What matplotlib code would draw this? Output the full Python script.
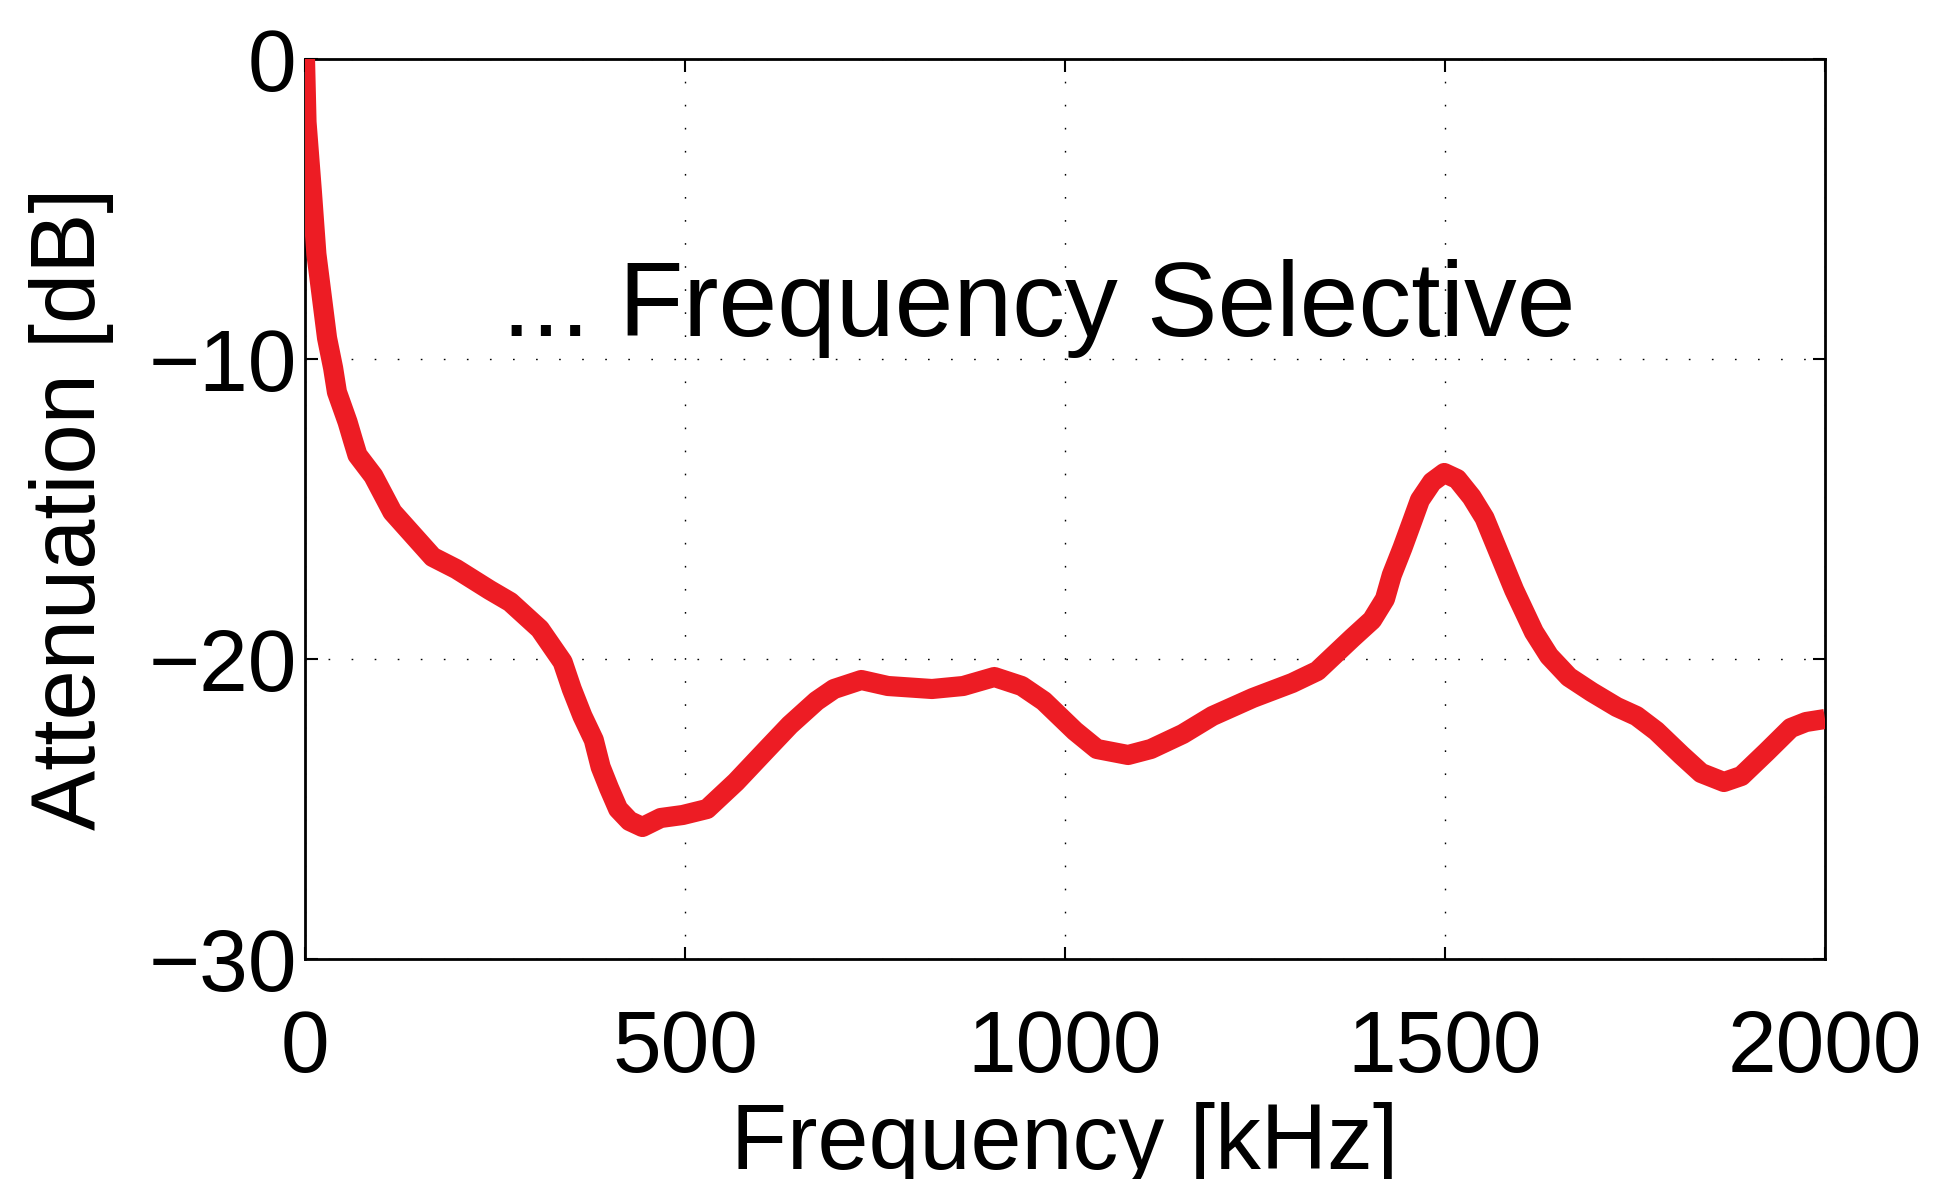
import matplotlib
matplotlib.use("Agg")
import matplotlib.pyplot as plt

# Data
freq_khz = [0, 2, 9, 15, 22, 29, 37, 42, 49, 56, 63, 69, 90, 115, 168, 199, 243,
            270, 309, 339, 351, 365, 380, 389, 400, 412, 427, 444, 468, 497, 529,
            567, 608, 638, 673, 696, 732, 767, 825, 866, 907, 943, 972, 1013, 1042,
            1083, 1113, 1155, 1194, 1247, 1299, 1332, 1378, 1404, 1421, 1430, 1444,
            1457, 1467, 1483, 1499, 1516, 1535, 1552, 1565, 1578, 1591, 1604, 1617,
            1637, 1663, 1693, 1726, 1752, 1778, 1811, 1837, 1867, 1890, 1923, 1955,
            1975, 2000]
atten_db = [0.0, -2.1, -4.4, -6.5, -7.9, -9.3, -10.3, -11.1, -11.6, -12.1, -12.7,
            -13.2, -13.9, -15.1, -16.6, -17.0, -17.7, -18.1, -19.0, -20.1, -21.0,
            -21.9, -22.7, -23.6, -24.3, -25.0, -25.4, -25.6, -25.3, -25.2, -25.0,
            -24.1, -23.0, -22.2, -21.4, -21.0, -20.7, -20.9, -21.0, -20.9, -20.6,
            -20.9, -21.4, -22.4, -23.0, -23.2, -23.0, -22.5, -21.9, -21.3, -20.8,
            -20.4, -19.3, -18.7, -18.0, -17.2, -16.3, -15.4, -14.7, -14.1, -13.8,
            -14.0, -14.6, -15.3, -16.1, -16.9, -17.7, -18.4, -19.1, -19.9, -20.6,
            -21.1, -21.6, -21.9, -22.4, -23.2, -23.8, -24.1, -23.9, -23.1, -22.3,
            -22.1, -22.0]
xticks = [0, 500, 1000, 1500, 2000]
yticks = [-30, -20, -10, 0]
xlabel = "Frequency [kHz]"
ylabel = "Attenuation [dB]"
annotation = "... Frequency Selective"

plt.rcParams['font.family'] = ['Liberation Sans', 'DejaVu Sans']

W, H = 1936, 1179
fig = plt.figure(figsize=(W / 100, H / 100), dpi=100)
ax = fig.add_axes([305 / W, 1 - 959 / H, 1520 / W, 900 / H])

ax.plot(freq_khz, atten_db, color='#ED1C24', linewidth=14.5,
        solid_joinstyle='round', solid_capstyle='butt', zorder=3)

ax.set_xlim(0, 2000)
ax.set_ylim(-30, 0)
ax.set_xticks(xticks)
ax.set_yticks(yticks)
ax.set_xticklabels([str(v) for v in xticks])
ax.set_yticklabels([("\u2212" + str(-v)) if v < 0 else str(v) for v in yticks])

ax.grid(True, color='black', linewidth=1.0, linestyle=(0, (1.2, 15.4)))
ax.set_axisbelow(True)

for s in ax.spines.values():
    s.set_linewidth(2.0)
ax.tick_params(axis='both', direction='in', length=9, width=1.5,
               top=True, right=True, labelsize=63)
ax.tick_params(axis='x', pad=36)
ax.tick_params(axis='y', pad=6)

ax.set_xlabel(xlabel, fontsize=66, va='baseline')
ax.xaxis.set_label_coords(0.5, -0.2333)
ax.set_ylabel(ylabel, fontsize=65, va='center')
ax.yaxis.set_label_coords(-0.1533, 0.5)

ax.text(966, -9.23, annotation, fontsize=76, ha='center', va='baseline', zorder=4)

fig.savefig("out.png", dpi=100)
